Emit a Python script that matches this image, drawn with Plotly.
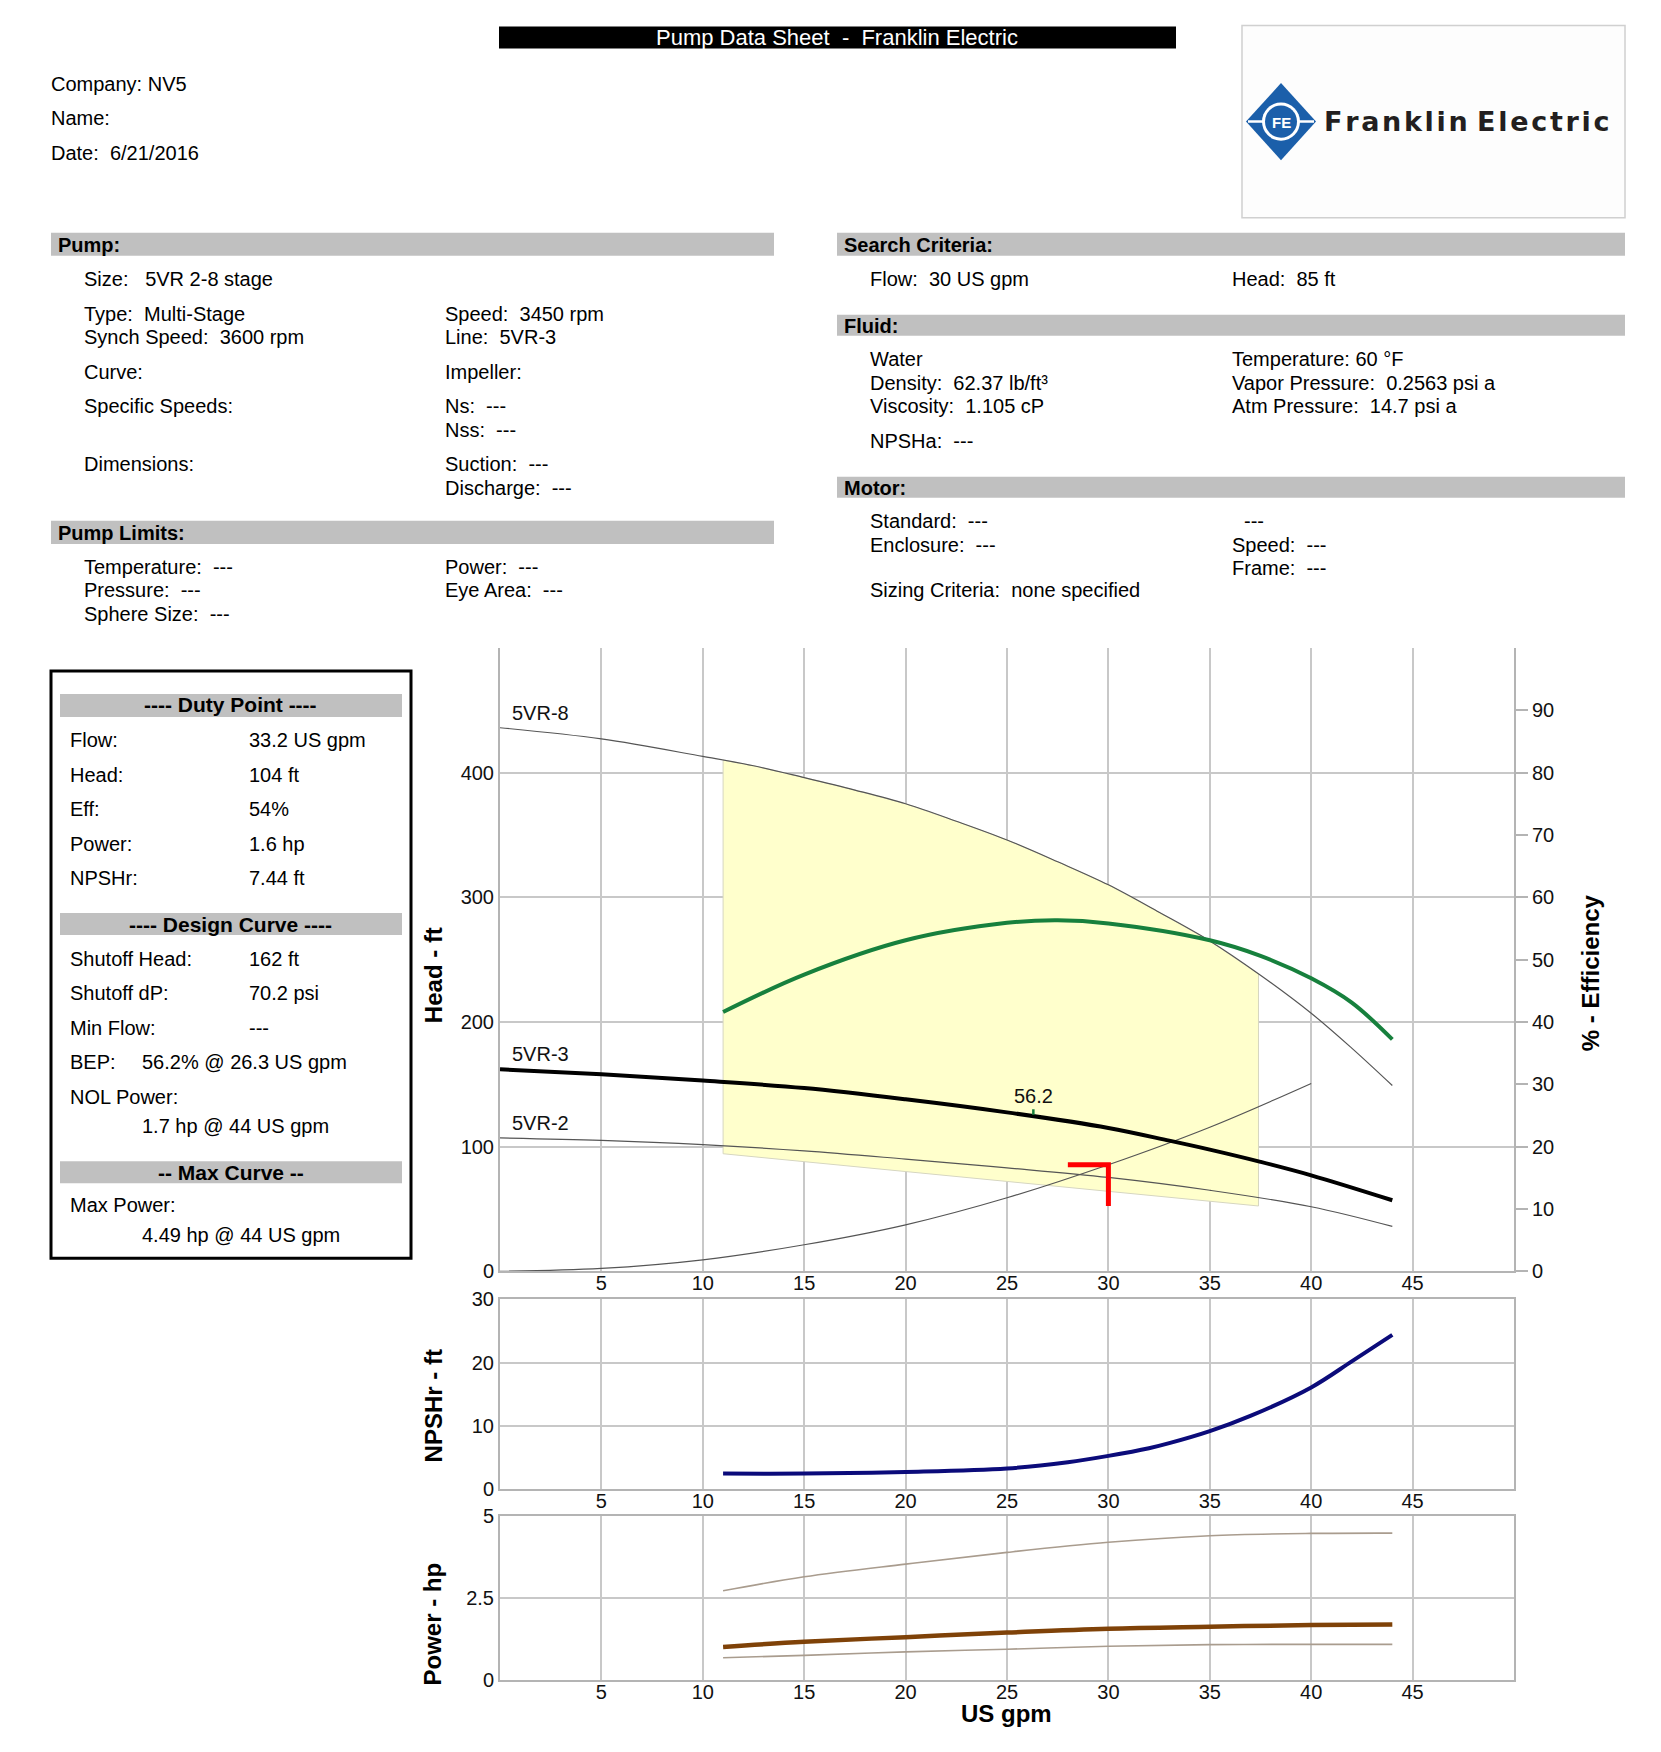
import plotly.graph_objects as go

W, H = 1661, 1752
FONT = "Liberation Sans, Arial, Helvetica, sans-serif"

# ---------------- data ----------------
flow_5vr8 = [0, 5, 10, 12.5, 15, 17.5, 20, 22.5, 25, 27.5, 30, 32.5, 35, 37.5, 40, 42, 44]
head_5vr8 = [436, 427, 413, 405.5, 396, 386, 375, 361, 346, 328.5, 310, 288, 265, 237.5, 207, 179, 149]

flow_5vr3 = [0, 5, 10, 15, 20, 25, 30, 33, 35, 37.5, 40, 44]
head_5vr3 = [162, 158, 153, 147, 138, 127.5, 115, 104.8, 97.6, 87.8, 77, 57]

flow_5vr2 = [0, 5, 10, 15, 20, 25, 30, 35, 40, 44]
head_5vr2 = [107, 105, 101.6, 96.6, 90, 83, 75.3, 65, 51.8, 36]

flow_system = [0, 5, 10, 15, 20, 25, 30, 35, 40]
head_system = [0, 2.3, 9.2, 21.3, 37.3, 59, 85.5, 115.6, 150.7]

flow_eff = [11, 15, 20, 25, 27.5, 30, 35, 37.5, 40, 42, 44]
eff_pct = [41.6, 47.6, 53.1, 55.9, 56.3, 55.8, 53.1, 50.6, 47, 43.1, 37.2]

region_flow = [11, 12.5, 15, 17.5, 20, 22.5, 25, 27.5, 30, 32.5, 35, 37.4, 37.4, 11, 11]
region_head = [410, 405.5, 396, 386, 375, 361, 346, 328.5, 310, 288, 265, 238.5, 52.4, 94.3, 410]

duty_marker_flow = [28, 30, 30]
duty_marker_head = [85.5, 85.5, 52.4]

bep_flow = [26.3, 26.3]
bep_head = [125.5, 130]
bep_label = "56.2"
bep_label_head = 141

curve_labels = ["5VR-8", "5VR-3", "5VR-2"]
curve_label_heads = [448, 174, 119]

flow_npsh = [11, 15, 20, 25, 28, 30, 32, 33, 35, 37, 40, 42, 44]
npshr_ft = [2.5, 2.5, 2.75, 3.3, 4.3, 5.3, 6.5, 7.3, 9.2, 11.6, 16.1, 20.2, 24.4]

flow_power = [11, 15, 20, 25, 30, 35, 40, 44]
power_max = [2.72, 3.15, 3.54, 3.9, 4.21, 4.41, 4.48, 4.49]
power_duty = [1.0, 1.16, 1.30, 1.44, 1.56, 1.62, 1.67, 1.69]
power_min = [0.67, 0.74, 0.85, 0.93, 1.02, 1.07, 1.08, 1.08]

flow_ticks = [5, 10, 15, 20, 25, 30, 35, 40, 45]
head_ticks = [0, 100, 200, 300, 400]
eff_ticks = [0, 10, 20, 30, 40, 50, 60, 70, 80, 90]
npsh_ticks = [0, 10, 20, 30]
power_ticks = [0, 2.5, 5]
power_ticktext = ["0", "2.5", "5"]

# ---------------- helpers ----------------
def px(x):
    return x / W


def py(y):
    return 1 - (1.01333 * y - 11.6) / H


NB = "\u00a0"
HS = "\u200a"
annotations = []
shapes = []


def txt(x, y, s, size=20, bold=False, color="black", anchor="left", angle=0, family=FONT):
    s = s.replace("  ", NB + NB)
    annotations.append(dict(
        x=px(x), y=py(y), xref="paper", yref="paper",
        text=("<b>" + s + "</b>") if bold else s,
        showarrow=False, xanchor=anchor, yanchor="middle", textangle=angle,
        font=dict(family=family, size=size, color=color)))


def rect(x0, y0, x1, y1, fill=None, line=None, lw=0):
    shapes.append(dict(type="rect", xref="paper", yref="paper",
                       x0=px(x0), x1=px(x1), y0=py(y1), y1=py(y0),
                       fillcolor=fill if fill else "rgba(0,0,0,0)",
                       line=dict(color=line if line else "rgba(0,0,0,0)", width=lw),
                       layer="below"))


fig = go.Figure()

# ---------------- main head / efficiency chart ----------------
fig.add_trace(go.Scatter(x=region_flow, y=region_head, mode="lines", fill="toself",
                         fillcolor="#ffffcc", line=dict(color="#d6d6c0", width=1),
                         hoverinfo="skip", xaxis="x", yaxis="y"))
fig.add_trace(go.Scatter(x=flow_system, y=head_system, mode="lines",
                         line=dict(color="#555555", width=1.2, shape="spline"), xaxis="x", yaxis="y"))
fig.add_trace(go.Scatter(x=flow_5vr8, y=head_5vr8, mode="lines",
                         line=dict(color="#555555", width=1.2, shape="spline"), xaxis="x", yaxis="y"))
fig.add_trace(go.Scatter(x=flow_5vr2, y=head_5vr2, mode="lines",
                         line=dict(color="#555555", width=1.2, shape="spline"), xaxis="x", yaxis="y"))
fig.add_trace(go.Scatter(x=flow_5vr3, y=head_5vr3, mode="lines",
                         line=dict(color="#000000", width=4, shape="spline"), xaxis="x", yaxis="y"))
fig.add_trace(go.Scatter(x=bep_flow, y=bep_head, mode="lines",
                         line=dict(color="#17803d", width=2.5), xaxis="x", yaxis="y"))
fig.add_trace(go.Scatter(x=duty_marker_flow, y=duty_marker_head, mode="lines",
                         line=dict(color="#ff0000", width=5), xaxis="x", yaxis="y"))
fig.add_trace(go.Scatter(x=flow_eff, y=eff_pct, mode="lines",
                         line=dict(color="#17803d", width=4, shape="spline"), xaxis="x", yaxis="y2"))

for lab, hv in zip(curve_labels, curve_label_heads):
    annotations.append(dict(x=0.5, y=hv, xref="x", yref="y", text=lab, showarrow=False,
                            xanchor="left", yanchor="middle", font=dict(family=FONT, size=20, color="#111")))
annotations.append(dict(x=bep_flow[0], y=bep_label_head, xref="x", yref="y", text=bep_label,
                        showarrow=False, xanchor="center", yanchor="middle",
                        font=dict(family=FONT, size=20, color="#111")))

# ---------------- NPSHr chart ----------------
fig.add_trace(go.Scatter(x=flow_npsh, y=npshr_ft, mode="lines",
                         line=dict(color="#0b0b7a", width=4, shape="spline"), xaxis="x2", yaxis="y3"))

# ---------------- Power chart ----------------
fig.add_trace(go.Scatter(x=flow_power, y=power_max, mode="lines",
                         line=dict(color="#a99c8e", width=1.6, shape="spline"), xaxis="x3", yaxis="y4"))
fig.add_trace(go.Scatter(x=flow_power, y=power_min, mode="lines",
                         line=dict(color="#a99c8e", width=1.6, shape="spline"), xaxis="x3", yaxis="y4"))
fig.add_trace(go.Scatter(x=flow_power, y=power_duty, mode="lines",
                         line=dict(color="#7f4208", width=4.5, shape="spline"), xaxis="x3", yaxis="y4"))

GRID = "#c8c8c8"
AXL = "#b4b4b4"
tickfont = dict(family=FONT, size=20, color="#111")
xdom = [px(500), px(1514)]


def xax(anchor, mirror=False):
    return dict(domain=xdom, range=[0, 50], tickvals=flow_ticks, showgrid=True, gridcolor=GRID,
                gridwidth=2, showline=True, linecolor=AXL, linewidth=2, mirror=mirror,
                zeroline=False, ticks="", tickfont=tickfont, anchor=anchor, fixedrange=True,
                ticklabelstandoff=-7)


def yax(dom, rng, tv, tt=None, mirror=False):
    d = dict(domain=dom, range=rng, tickvals=tv, showgrid=True, gridcolor=GRID, gridwidth=2,
             showline=True, linecolor=AXL, linewidth=2, mirror=mirror, zeroline=False,
             ticks="", tickfont=tickfont, fixedrange=True)
    if tt:
        d["ticktext"] = tt
    return d


layout = dict(
    width=W, height=H, margin=dict(l=0, r=0, t=0, b=0),
    paper_bgcolor="white", plot_bgcolor="white", showlegend=False,
    xaxis=xax("y"),
    yaxis=dict(yax([py(1271), py(648)], [0, 500], head_ticks), anchor="x"),
    yaxis2=dict(domain=[py(1271), py(648)], range=[0, 100], tickvals=eff_ticks, overlaying="y",
                side="right", anchor="x", showgrid=False, zeroline=False, showline=True,
                linecolor=AXL, linewidth=2, ticks="outside", ticklen=12, tickcolor=AXL,
                tickwidth=2, tickfont=tickfont, fixedrange=True),
    xaxis2=xax("y3", mirror=True),
    yaxis3=dict(yax([py(1489), py(1299)], [0, 30], npsh_ticks, mirror=True), anchor="x2"),
    xaxis3=xax("y4", mirror=True),
    yaxis4=dict(yax([py(1679), py(1516)], [0, 5], power_ticks, power_ticktext, mirror=True), anchor="x3"),
)

# axis titles
txt(433, 975, "Head - ft", size=24, bold=True, anchor="center", angle=-90)
txt(1590, 973, "% - Efficiency", size=24, bold=True, anchor="center", angle=-90)
txt(433, 1406, "NPSHr - ft", size=24, bold=True, anchor="center", angle=-90)
txt(433, 1624, "Power - hp", size=24, bold=True, anchor="center", angle=-90)
txt(1006, 1713, "US gpm", size=24, bold=True, anchor="center")

# ---------------- header ----------------
rect(499, 27, 1176, 49, fill="#000000")
txt(837, 38, "Pump Data Sheet  -  Franklin Electric", size=22, color="white", anchor="center")
txt(49, 84, "Company: NV5")
txt(49, 118, "Name:")
txt(49, 153, "Date:  6/21/2016")

# logo
rect(1242, 26, 1625, 218, fill="#fdfdfd", line="#d0d0d0", lw=1.5)
cx, cy, hw, hh = 1281, 122, 35, 38.5
shapes.append(dict(type="path", xref="paper", yref="paper",
                   path=f"M {px(cx)},{py(cy-hh)} L {px(cx+hw)},{py(cy)} L {px(cx)},{py(cy+hh)} L {px(cx-hw)},{py(cy)} Z",
                   fillcolor="#1b5faa", line=dict(width=0)))
shapes.append(dict(type="line", xref="paper", yref="paper", x0=px(cx - hw + 2), x1=px(cx + hw - 2),
                   y0=py(cy), y1=py(cy), line=dict(color="white", width=2.5)))
shapes.append(dict(type="circle", xref="paper", yref="paper", x0=px(cx - 19), x1=px(cx + 19),
                   y0=py(cy + 19), y1=py(cy - 19), fillcolor="white", line=dict(width=0)))
shapes.append(dict(type="circle", xref="paper", yref="paper", x0=px(cx - 16), x1=px(cx + 16),
                   y0=py(cy + 16), y1=py(cy - 16), fillcolor="#1b5faa", line=dict(width=0)))
txt(cx, cy + 1, "FE", size=15, bold=True, color="white", anchor="center")
logo_word = " ".join(HS.join(list(w)) for w in "Franklin Electric".split(" "))
txt(1322, 122, logo_word, size=27, bold=True, color="#231f20", family="DejaVu Sans, sans-serif")

# ---------------- section bars ----------------
BAR = "#c0c0c0"
rect(51, 233, 774, 256, fill=BAR)
txt(56, 245, "Pump:", bold=True)
rect(837, 233, 1625, 256, fill=BAR)
txt(842, 245, "Search Criteria:", bold=True)
rect(837, 315, 1625, 336, fill=BAR)
txt(842, 326, "Fluid:", bold=True)
rect(837, 477, 1625, 498, fill=BAR)
txt(842, 488, "Motor:", bold=True)
rect(51, 521, 774, 544, fill=BAR)
txt(56, 533, "Pump Limits:", bold=True)

# pump section
c1, c2 = 82, 443
txt(c1, 279, "Size:   5VR 2-8 stage")
txt(c1, 314, "Type:  Multi-Stage")
txt(c1, 337, "Synch Speed:  3600 rpm")
txt(c2, 314, "Speed:  3450 rpm")
txt(c2, 337, "Line:  5VR-3")
txt(c1, 372, "Curve:")
txt(c2, 372, "Impeller:")
txt(c1, 406, "Specific Speeds:")
txt(c2, 406, "Ns:  ---")
txt(c2, 430, "Nss:  ---")
txt(c1, 464, "Dimensions:")
txt(c2, 464, "Suction:  ---")
txt(c2, 488, "Discharge:  ---")

# search / fluid / motor
c3, c4 = 868, 1230
txt(c3, 279, "Flow:  30 US gpm")
txt(c4, 279, "Head:  85 ft")
txt(c3, 359, "Water")
txt(c3, 383, "Density:  62.37 lb/ft³")
txt(c3, 406, "Viscosity:  1.105 cP")
txt(c4, 359, "Temperature: 60 °F")
txt(c4, 383, "Vapor Pressure:  0.2563 psi a")
txt(c4, 406, "Atm Pressure:  14.7 psi a")
txt(c3, 441, "NPSHa:  ---")
txt(c3, 521, "Standard:  ---")
txt(c3, 545, "Enclosure:  ---")
txt(1242, 521, "---")
txt(c4, 545, "Speed:  ---")
txt(c4, 568, "Frame:  ---")
txt(c3, 590, "Sizing Criteria:  none specified")

# pump limits
txt(c1, 567, "Temperature:  ---")
txt(c1, 590, "Pressure:  ---")
txt(c1, 614, "Sphere Size:  ---")
txt(c2, 567, "Power:  ---")
txt(c2, 590, "Eye Area:  ---")

# ---------------- left info box ----------------
rect(51, 671, 411, 1258, line="#000000", lw=3)
rect(60, 694, 402, 717, fill=BAR)
txt(231, 705, "---- Duty Point ----", size=21, bold=True, anchor="center")
lx, vx = 68, 247
rows = [("Flow:", "33.2 US gpm", 740), ("Head:", "104 ft", 775), ("Eff:", "54%", 809),
        ("Power:", "1.6 hp", 844), ("NPSHr:", "7.44 ft", 878)]
for a, b, y in rows:
    txt(lx, y, a)
    txt(vx, y, b)
rect(60, 913, 402, 935, fill=BAR)
txt(231, 924, "---- Design Curve ----", size=21, bold=True, anchor="center")
rows = [("Shutoff Head:", "162 ft", 959), ("Shutoff dP:", "70.2 psi", 993), ("Min Flow:", "---", 1028)]
for a, b, y in rows:
    txt(lx, y, a)
    txt(vx, y, b)
txt(lx, 1062, "BEP:")
txt(140, 1062, "56.2% @ 26.3 US gpm")
txt(lx, 1097, "NOL Power:")
txt(140, 1126, "1.7 hp @ 44 US gpm")
rect(60, 1161, 402, 1183, fill=BAR)
txt(231, 1172, "-- Max Curve --", size=21, bold=True, anchor="center")
txt(lx, 1205, "Max Power:")
txt(140, 1235, "4.49 hp @ 44 US gpm")

layout["annotations"] = annotations
layout["shapes"] = shapes
fig.update_layout(**layout)

fig.write_html("out.html", config={"displayModeBar": False, "staticPlot": True},
               post_script="document.body.style.margin='0';document.body.style.overflow='hidden';")
